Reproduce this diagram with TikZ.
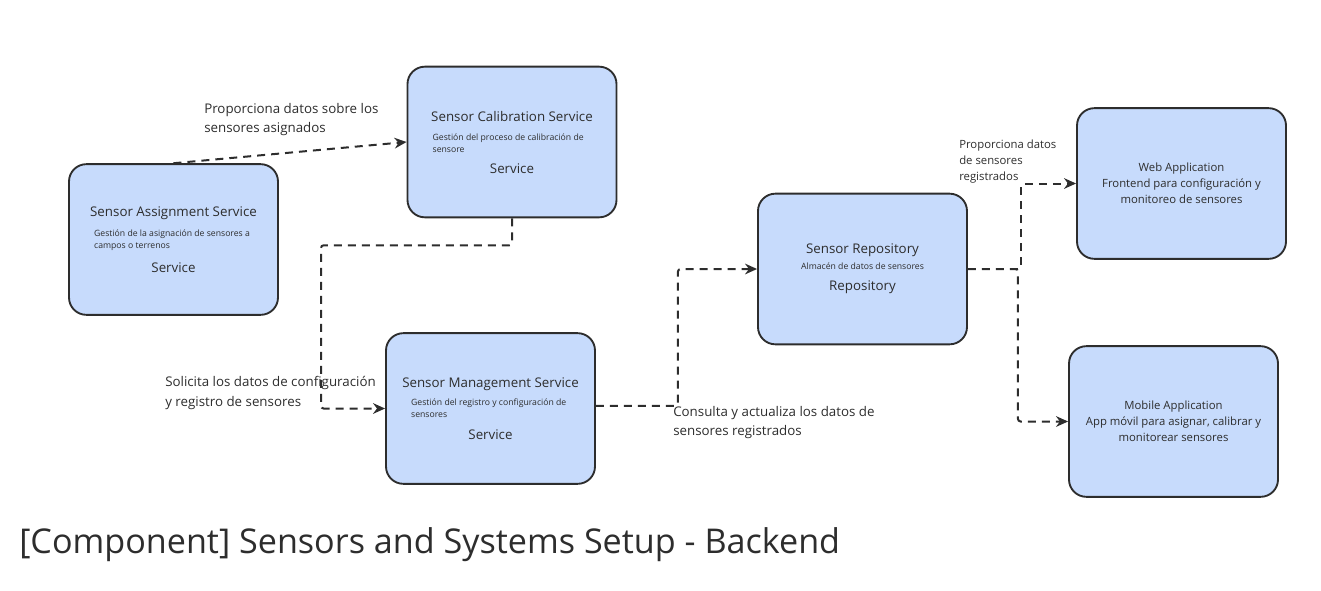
\documentclass[tikz,border=0pt]{standalone}
\usepackage{fontspec}
\setmainfont{Open Sans}
\usetikzlibrary{arrows.meta}
\definecolor{boxfill}{RGB}{199,219,252}
\definecolor{ink}{RGB}{45,45,45}
\newcommand{\ttl}{\fontsize{10}{13}\selectfont}
\newcommand{\dsc}[1]{\hspace*{12pt}\parbox{131pt}{\raggedright\fontsize{6.5}{9}\selectfont #1}}

\begin{document}
\begin{tikzpicture}[x=0.75pt, y=-0.75pt,
    comp/.style={rectangle, rounded corners=13pt, draw=ink, line width=1.4pt, fill=boxfill,
        minimum width=156.75pt, minimum height=113pt, align=center, inner sep=0pt, text=ink},
    link/.style={draw=ink, line width=1.5pt, dash pattern=on 6pt off 4.5pt, rounded corners=2pt,
        -{Stealth[length=9pt, width=8pt]}},
    lbl/.style={anchor=west, align=left, inner sep=0pt, text=ink, font=\fontsize{10}{14.5}\selectfont}]
    \useasboundingbox (0,0) rectangle (1321,590);
    \node[comp] (assign) at (173.5,239.5) {\ttl Sensor Assignment Service\\[7pt]
        \dsc{Gestión de la asignación de sensores a campos o terrenos}\\[8pt]
        \ttl Service};
    \node[comp] (calib) at (512,142) {\ttl Sensor Calibration Service\\[7pt]
        \dsc{Gestión del proceso de calibración de sensore}\\[8pt]
        \ttl Service};
    \node[comp] (mgmt) at (490.5,408.5) {\ttl Sensor Management Service\\[6pt]
        \dsc{Gestión del registro y configuración de sensores}\\[9pt]
        \ttl Service};
    \node[comp] (repo) at (862.5,269) {\ttl Sensor Repository\\[0pt]
        \fontsize{6.5}{9}\selectfont Almacén de datos de sensores\\[4pt]
        \ttl Repository};
    \node[comp, font=\fontsize{8.5}{12}\selectfont] (web) at (1181.5,183.5)
        {Web Application\\Frontend para configuración y\\monitoreo de sensores};
    \node[comp, font=\fontsize{8.5}{12}\selectfont] (mobile) at (1173.5,421.5)
        {Mobile Application\\App móvil para asignar, calibrar y\\monitorear sensores};
    % connectors
    \draw[link] (assign.north) -- (calib.west);
    \draw[link] (calib.south) -- ++(0,27) -- ++(-191,0) |- (mgmt.west);
    \draw[link] ([yshift=2pt]mgmt.east) -- ++(82,0) |- (repo.west);
    \draw[link] (repo.east) -- ++(53,0) |- (web.west);
    \draw[link] (repo.east) -- ++(50,0) |- (mobile.west);
    % labels
    \node[lbl] (l1) at (204,119.5) {Proporciona datos sobre los\\sensores asignados};
    \node[lbl] (l2) at (165,393) {Solicita los datos de configuración\\y registro de sensores};
    \node[lbl] (l3) at (673,422.5) {Consulta y actualiza los datos de\\sensores registrados};
    \node[lbl, font=\fontsize{8.5}{12}\selectfont] (l4) at (959,161.5) {Proporciona datos\\de sensores\\registrados};
    \node[anchor=west, inner sep=0pt, text=ink, font=\fontsize{25.6}{30}\selectfont] (title) at (19,545)
        {[Component] Sensors and Systems Setup - Backend};
\end{tikzpicture}
\end{document}
